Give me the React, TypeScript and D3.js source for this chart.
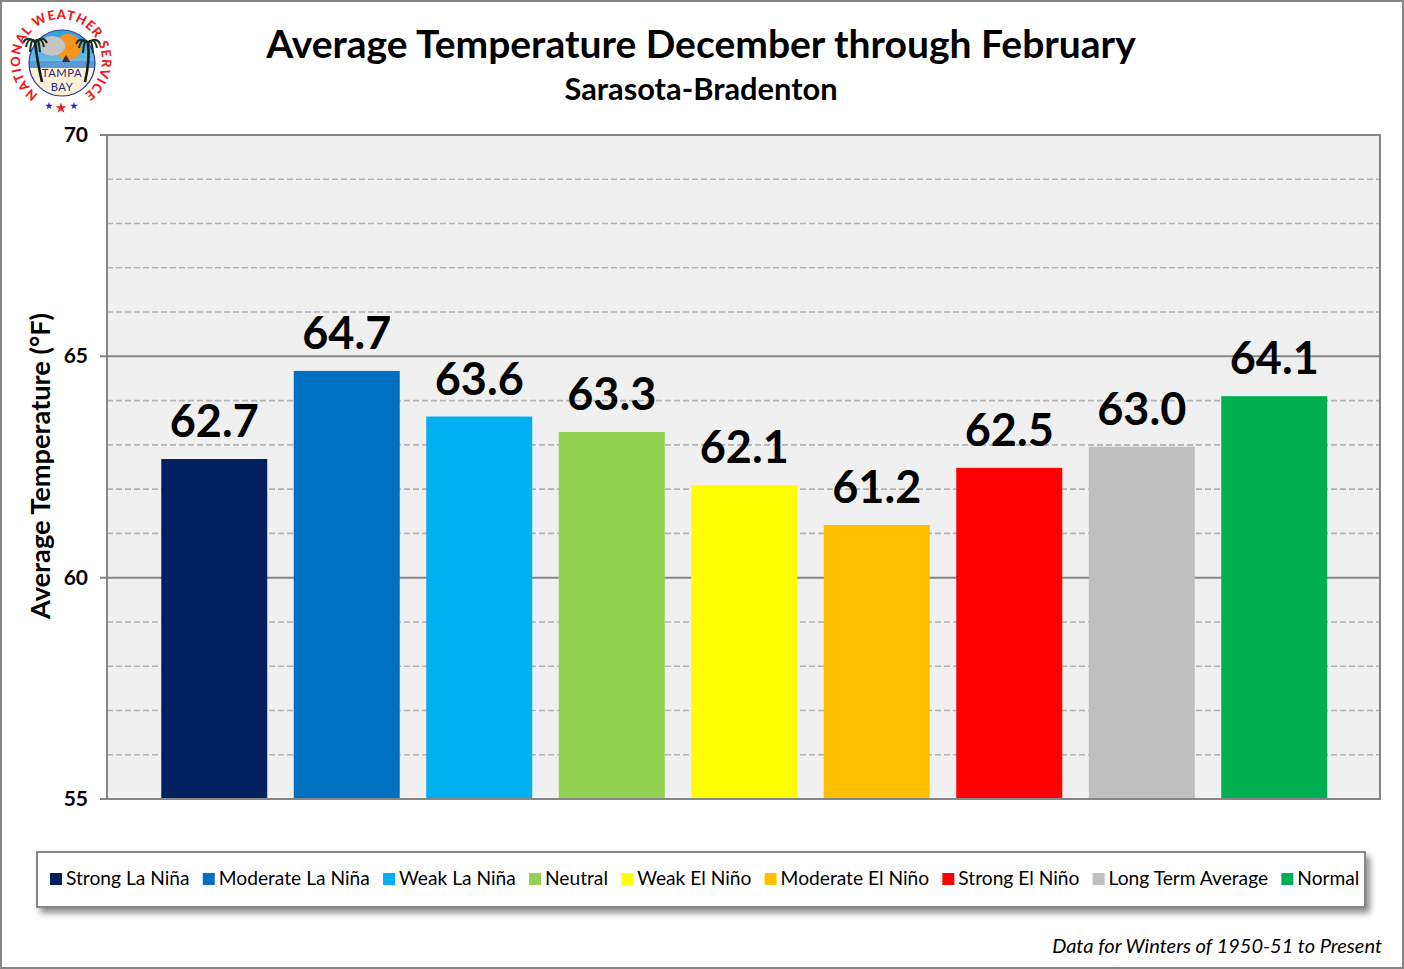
import React, { useEffect, useRef } from 'react';
import * as d3 from 'd3';

const categories = [
  'Strong La Niña',
  'Moderate La Niña',
  'Weak La Niña',
  'Neutral',
  'Weak El Niño',
  'Moderate El Niño',
  'Strong El Niño',
  'Long Term Average',
  'Normal',
];
// bar heights read a bit finer than the printed one-decimal labels
const temps = [62.68, 64.67, 63.64, 63.29, 62.09, 61.19, 62.48, 62.96, 64.1];
const barColors = [
  '#002060',
  '#0070c0',
  '#00b0f0',
  '#92d050',
  '#ffff00',
  '#ffc000',
  '#ff0000',
  '#bfbfbf',
  '#00b050',
];
const majorTicks = [55, 60, 65, 70];
const minorTicks = [56, 57, 58, 59, 61, 62, 63, 64, 66, 67, 68, 69];

const width = 1404;
const height = 969;
const plot = { left: 107, right: 1380, top: 135, bottom: 799 };
const font = 'Lato, Carlito, Calibri, sans-serif';

export default function App() {
  const svgRef = useRef<SVGSVGElement>(null);

  useEffect(() => {
    const svg = d3.select(svgRef.current);
    svg.selectAll('*').remove();

    const defs = svg.append('defs');
    const shadow = defs.append('filter').attr('id', 'legendShadow').attr('x', '-2%').attr('y', '-20%').attr('width', '104%').attr('height', '150%');
    shadow.append('feDropShadow').attr('dx', 4).attr('dy', 5).attr('stdDeviation', 3).attr('flood-color', '#000').attr('flood-opacity', 0.45);
    defs.append('path').attr('id', 'logoArc').attr('d', 'M 43 97 A 41 41 0 1 1 79 97');

    svg.append('rect').attr('x', 1).attr('y', 1).attr('width', width - 2).attr('height', height - 2)
      .attr('fill', '#fff').attr('stroke', '#868686').attr('stroke-width', 2);

    const y = d3.scaleLinear().domain([55, 70]).range([plot.bottom, plot.top]);
    const x = d3.scaleBand<string>().domain(categories).range([148, 1340.5]).paddingInner(0.2).paddingOuter(0.1);

    svg.append('rect').attr('x', plot.left).attr('y', plot.top)
      .attr('width', plot.right - plot.left).attr('height', plot.bottom - plot.top).attr('fill', '#f0f0f0');

    svg.append('g').selectAll('line').data(minorTicks).join('line')
      .attr('x1', plot.left).attr('x2', plot.right)
      .attr('y1', (d) => y(d)).attr('y2', (d) => y(d))
      .attr('stroke', '#b2b2b2').attr('stroke-width', 1.6).attr('stroke-dasharray', '6 3');

    svg.append('g').selectAll('line').data(majorTicks).join('line')
      .attr('x1', plot.left - 7).attr('x2', plot.right)
      .attr('y1', (d) => y(d)).attr('y2', (d) => y(d))
      .attr('stroke', '#868686').attr('stroke-width', 2);

    svg.append('g').selectAll('rect').data(temps).join('rect')
      .attr('x', (_, i) => x(categories[i])!)
      .attr('y', (d) => y(d))
      .attr('width', x.bandwidth())
      .attr('height', (d) => plot.bottom - y(d))
      .attr('fill', (_, i) => barColors[i]);

    svg.append('rect').attr('x', plot.left).attr('y', plot.top)
      .attr('width', plot.right - plot.left).attr('height', plot.bottom - plot.top)
      .attr('fill', 'none').attr('stroke', '#868686').attr('stroke-width', 2);

    svg.append('g').selectAll('text').data(temps).join('text')
      .attr('x', (_, i) => x(categories[i])! + x.bandwidth() / 2)
      .attr('y', (d) => y(d) - 22)
      .attr('text-anchor', 'middle')
      .attr('font-family', font).attr('font-weight', 700).attr('font-size', 45).attr('fill', '#000')
      .text((d) => d.toFixed(1));

    svg.append('g').selectAll('text').data(majorTicks).join('text')
      .attr('x', 88).attr('y', (d) => y(d) + 7)
      .attr('text-anchor', 'end')
      .attr('font-family', font).attr('font-weight', 700).attr('font-size', 21).attr('fill', '#000')
      .text((d) => d);

    svg.append('text').attr('transform', 'translate(50,466) rotate(-90)')
      .attr('text-anchor', 'middle')
      .attr('font-family', font).attr('font-weight', 700).attr('font-size', 27.2).attr('fill', '#000')
      .text('Average Temperature (°F)');

    svg.append('text').attr('x', 701).attr('y', 58).attr('text-anchor', 'middle')
      .attr('font-family', font).attr('font-weight', 700).attr('font-size', 39).attr('fill', '#000')
      .text('Average Temperature December through February');
    svg.append('text').attr('x', 701).attr('y', 100).attr('text-anchor', 'middle')
      .attr('font-family', font).attr('font-weight', 700).attr('font-size', 30.8).attr('fill', '#000')
      .text('Sarasota-Bradenton');

    svg.append('text').attr('x', 1382).attr('y', 953).attr('text-anchor', 'end')
      .attr('font-family', font).attr('font-style', 'italic').attr('font-size', 20).attr('fill', '#000')
      .text('Data for Winters of 1950-51 to Present');

    // legend: flow layout from measured label widths
    svg.append('rect').attr('x', 37).attr('y', 852).attr('width', 1328).attr('height', 55)
      .attr('fill', '#fff').attr('stroke', '#868686').attr('stroke-width', 2).attr('filter', 'url(#legendShadow)');
    let lx = 50;
    categories.forEach((name, i) => {
      svg.append('rect').attr('x', lx).attr('y', 873).attr('width', 12).attr('height', 12).attr('fill', barColors[i]);
      const label = svg.append('text').attr('x', lx + 16).attr('y', 885)
        .attr('font-family', font).attr('font-size', 19.2).attr('fill', '#000').text(name);
      const w = (label.node() as SVGTextElement).getComputedTextLength();
      lx += 16 + w + 13.2;
    });

    // NWS Tampa Bay logo
    const logo = svg.append('g');
    const skyGrad = defs.append('linearGradient').attr('id', 'logoSky').attr('x1', 0).attr('y1', 0).attr('x2', 0).attr('y2', 1);
    skyGrad.append('stop').attr('offset', '0').attr('stop-color', '#2f9fe0');
    skyGrad.append('stop').attr('offset', '1').attr('stop-color', '#a8dcf0');
    defs.append('clipPath').attr('id', 'logoClip').append('circle').attr('cx', 62).attr('cy', 63).attr('r', 33);
    logo.append('circle').attr('cx', 62).attr('cy', 63).attr('r', 33).attr('fill', 'url(#logoSky)');
    const inner = logo.append('g').attr('clip-path', 'url(#logoClip)');
    inner.append('rect').attr('x', 29).attr('y', 61).attr('width', 66).attr('height', 8).attr('fill', '#5b9bd5');
    inner.append('rect').attr('x', 29).attr('y', 68).attr('width', 66).attr('height', 30).attr('fill', '#fdf1d8');
    inner.append('circle').attr('cx', 68).attr('cy', 47).attr('r', 13).attr('fill', '#f7941d');
    inner.append('ellipse').attr('cx', 52).attr('cy', 46).attr('rx', 13).attr('ry', 10).attr('fill', '#c4c4c4');
    inner.append('path').attr('d', 'M62 62 L70 62 L68 58 L66 55 L64 58 Z').attr('fill', '#333');
    logo.append('circle').attr('cx', 62).attr('cy', 63).attr('r', 33).attr('fill', 'none').attr('stroke', '#2b3a9b').attr('stroke-width', 1.2);
    [[42, 82, 35, 42], [85, 82, 88, 43]].forEach(([x0, y0, x1, y1]) => {
      logo.append('path').attr('d', `M${x0} ${y0} Q${x1 + 2} 60 ${x1} ${y1}`).attr('stroke', '#1a1a1a').attr('stroke-width', 2.6).attr('fill', 'none');
      [-12, -9, -5, 5, 9, 12].forEach((dx, k) => {
        const drop = k === 2 || k === 3 ? 10 : k === 1 || k === 4 ? 5 : 1;
        logo.append('path').attr('d', `M${x1} ${y1} Q${x1 + dx * 0.7} ${y1 - 7} ${x1 + dx} ${y1 + drop}`)
          .attr('stroke', '#10301a').attr('stroke-width', 2).attr('fill', 'none');
      });
    });
    logo.append('text').attr('x', 62).attr('y', 77).attr('text-anchor', 'middle').attr('letter-spacing', 0.6)
      .attr('font-family', font).attr('font-size', 11.2).attr('fill', '#1c2a80').text('TAMPA');
    logo.append('text').attr('x', 62).attr('y', 91.2).attr('text-anchor', 'middle').attr('letter-spacing', 0.6)
      .attr('font-family', font).attr('font-size', 11.2).attr('fill', '#1c2a80').text('BAY');
    logo.append('text').attr('font-family', font).attr('font-weight', 900).attr('font-size', 13).attr('fill', '#ee1c25')
      .append('textPath').attr('href', '#logoArc').attr('startOffset', '50%').attr('text-anchor', 'middle')
      .attr('letter-spacing', 0.9).text('NATIONAL WEATHER SERVICE');
    const stars = [[49, 106, '#1f2fa8', 2.5], [61, 108, '#ee1c25', 3.5], [74, 106, '#1f2fa8', 2.5]] as const;
    stars.forEach(([cx, cy, c, r]) => {
      logo.append('path').attr('transform', `translate(${cx},${cy})`)
        .attr('d', d3.symbol().type(d3.symbolStar).size(r * r * 3)()!).attr('fill', c);
    });
  }, []);

  return (
    <svg
      ref={svgRef}
      width={width}
      height={height}
      viewBox={`0 0 ${width} ${height}`}
      style={{ position: 'absolute', left: 0, top: 0, display: 'block' }}
    />
  );
}
